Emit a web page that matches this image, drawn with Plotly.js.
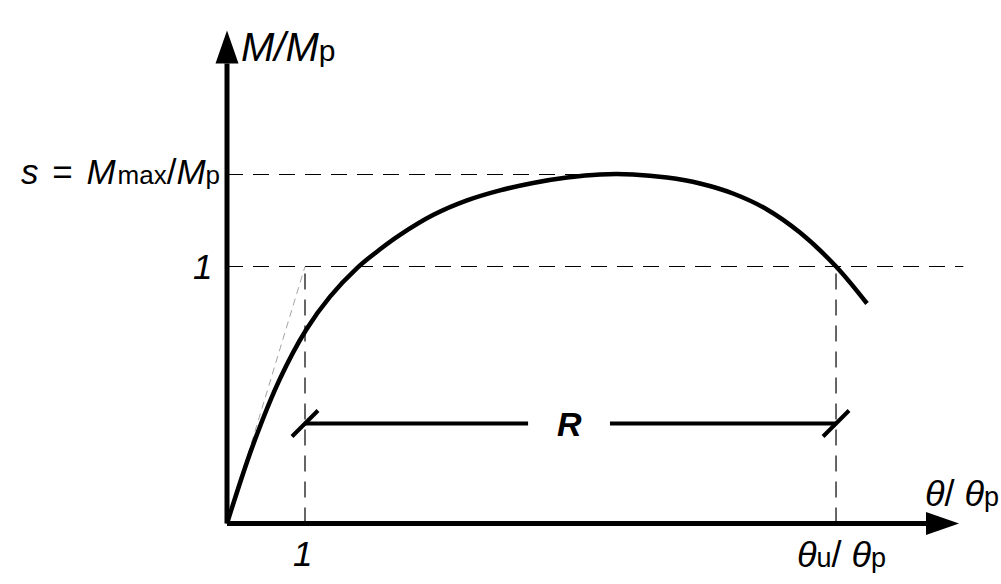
<!DOCTYPE html>
<html>
<head>
<meta charset="utf-8">
<script src="https://cdn.plot.ly/plotly-3.0.1.min.js"></script>
<style>
  html, body { margin: 0; padding: 0; background: #fff; }
  #graph { width: 1001px; height: 584px; }
</style>
</head>
<body>
<div id="graph"></div>
<script>
// Moment-rotation curve, normalised: M/Mp against theta/theta_p.
// Values (theta/theta_p, M/Mp).
const theta  = [0, 0.333, 0.679, 1.013, 1.321, 1.667, 1.962, 2.218, 2.641, 3.077, 3.500, 3.923, 4.359, 4.782, 5.205, 5.641, 6.064, 6.487, 6.923, 7.346, 7.808, 8.205];
const moment = [0, 0.305, 0.563, 0.753, 0.883, 0.994, 1.067, 1.123, 1.200, 1.257, 1.296, 1.325, 1.346, 1.358, 1.358, 1.346, 1.323, 1.284, 1.222, 1.132, 1.000, 0.856];

// Characteristic levels
const thetaUnit = 1;      // theta/theta_p = 1
const momentUnit = 1;     // M/Mp = 1
const sMax = 1.358;       // s = Mmax/Mp
const thetaPeak = 4.9;
const thetaU = 7.808;     // theta_u/theta_p
const rLevel = 0.389;     // height of the R dimension line
const rGap = [3.86, 4.91];

// Axis extents (data units)
const xTip = 9.385, yTip = 1.918;
const dashEnd = 9.44;

// Scale: 78 px per theta unit, 257 px per moment unit.
// origin at pixel (227, 523) of the 1001x584 picture
const PX = 78, PY = 257;
const xRange = [-227 / PX, (1001 - 227) / PX];
const yRange = [(523.5 - 584) / PY, 523.5 / PY];

const arrowLen = 33, arrowHalf = 11.5; // px
const slash = 13;                      // px

const FONT = 'Liberation Sans, Arial, sans-serif';

function line(x0, y0, x1, y1, width, dash, color) {
    return {
        type: 'line', xref: 'x', yref: 'y', x0: x0, y0: y0, x1: x1, y1: y1,
        line: { color: color || '#000', width: width, dash: dash || 'solid' },
        layer: 'below'
    };
}

function tri(pts) {
    const d = 'M' + pts.map(p => p[0] + ',' + p[1]).join(' L') + ' Z';
    return { type: 'path', xref: 'x', yref: 'y', path: d, fillcolor: '#000', line: { width: 0 } };
}

const DASH = '16px,10px';
const shapes = [
    // guide lines
    line(0, sMax, thetaPeak, sMax, 1.2, DASH),
    line(0, momentUnit, dashEnd, momentUnit, 1.2, DASH),
    line(thetaUnit, 0, thetaUnit, momentUnit, 1.2, DASH),
    line(thetaU, 0, thetaU, momentUnit, 1.2, DASH),
    // initial stiffness
    line(0, 0, thetaUnit, momentUnit, 0.8, '7px,5px', '#8c8c8c'),
    // axes
    line(0, 0, xTip - arrowLen / PX, 0, 5),
    line(0, 0, 0, yTip - arrowLen / PY, 5),
    tri([[xTip, 0], [xTip - arrowLen / PX, arrowHalf / PY], [xTip - arrowLen / PX, -arrowHalf / PY]]),
    tri([[0, yTip], [-arrowHalf / PX, yTip - arrowLen / PY], [arrowHalf / PX, yTip - arrowLen / PY]]),
    // rotation capacity R
    line(thetaUnit, rLevel, rGap[0], rLevel, 4),
    line(rGap[1], rLevel, thetaU, rLevel, 4),
    line(thetaUnit - slash / PX, rLevel - slash / PY, thetaUnit + slash / PX, rLevel + slash / PY, 4),
    line(thetaU - slash / PX, rLevel - slash / PY, thetaU + slash / PX, rLevel + slash / PY, 4)
];

const sm = s => '<span style="font-size:' + s + 'px">';

const annotations = [
    { x: 0, y: yTip, xanchor: 'left', yanchor: 'top', xshift: 12, yshift: 8,
      text: '<i>M/M</i>' + sm(30) + 'p</span>', font: { size: 40 } },
    { x: 0, y: sMax, xanchor: 'right', yanchor: 'middle', xshift: -5, yshift: 3,
      text: '<span style="letter-spacing:2px"><i>s</i> = <i>M</i></span>' + sm(26) + 'max</span>/<i>M</i>' + sm(26) + 'p</span>',
      font: { size: 35 } },
    { x: 0, y: momentUnit, xanchor: 'right', yanchor: 'middle', xshift: -13,
      text: '<i>1</i>', font: { size: 35 } },
    { x: thetaUnit, y: 0, xanchor: 'center', yanchor: 'top', xshift: -3, yshift: -8,
      text: '<i>1</i>', font: { size: 35 } },
    { x: thetaU, y: 0, xanchor: 'center', yanchor: 'top', xshift: 5, yshift: -8,
      text: '<i>θ</i>' + sm(27) + 'u</span>/ <i>θ</i>' + sm(27) + 'p</span>', font: { size: 36 } },
    { x: xTip, y: 0, xanchor: 'left', yanchor: 'bottom', xshift: -36, yshift: 8,
      text: '<i>θ</i>/ <i>θ</i>' + sm(27) + 'p</span>', font: { size: 36 } },
    { x: (rGap[0] + rGap[1]) / 2, y: rLevel, xanchor: 'center', yanchor: 'middle',
      text: '<b><i>R</i></b>', font: { size: 34 } }
].map(a => Object.assign({ xref: 'x', yref: 'y', showarrow: false }, a, {
    font: Object.assign({ family: FONT, color: '#000' }, a.font)
}));

const curve = {
    x: theta,
    y: moment,
    mode: 'lines',
    line: { color: '#000', width: 4.5, shape: 'spline', smoothing: 1 },
    hoverinfo: 'skip'
};

const layout = {
    width: 1001,
    height: 584,
    margin: { l: 0, r: 0, t: 0, b: 0, pad: 0 },
    paper_bgcolor: '#fff',
    plot_bgcolor: '#fff',
    showlegend: false,
    xaxis: { range: xRange, visible: false, fixedrange: true },
    yaxis: { range: yRange, visible: false, fixedrange: true },
    shapes: shapes,
    annotations: annotations
};

Plotly.newPlot('graph', [curve], layout, { displayModeBar: false, staticPlot: true });
</script>
</body>
</html>
